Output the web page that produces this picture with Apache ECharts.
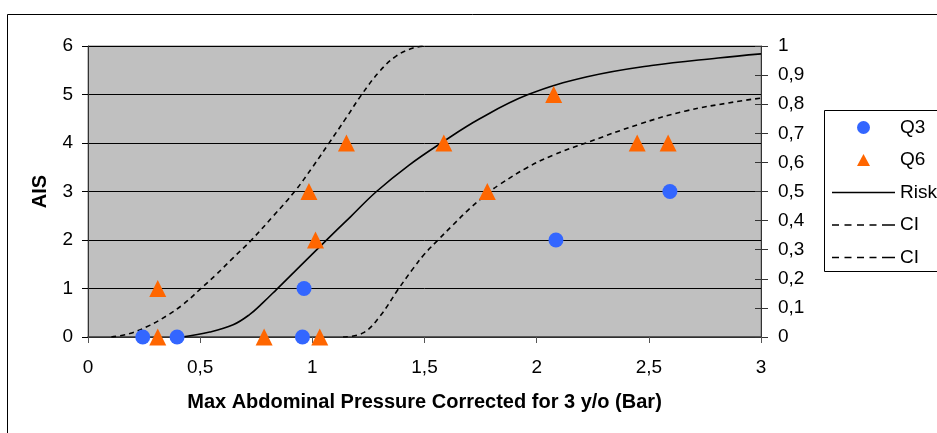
<!DOCTYPE html>
<html>
<head>
<meta charset="utf-8">
<script src="https://cdn.jsdelivr.net/npm/echarts@6/dist/echarts.min.js"></script>
<style>
html,body{margin:0;padding:0;background:#fff;}
#c{width:937px;height:433px;}
</style>
</head>
<body>
<div id="c"></div>
<script>
// ---- data ----
var q3X = [0.244, 0.397, 0.956, 0.963, 2.086, 2.594];
var q3Y = [0, 0, 0, 1, 2, 3];
var q6X = [0.311, 0.311, 0.785, 0.985, 1.014, 1.033, 1.152, 1.586, 1.780, 2.076, 2.448, 2.586];
var q6Y = [1, 0, 0, 3, 2, 0, 4, 4, 3, 5, 4, 4];

var riskX = [0.42, 0.543, 0.647, 0.72, 0.78, 0.84, 0.95, 1.063, 1.17, 1.286, 1.43, 1.575, 1.746, 1.962, 2.225, 2.512, 2.809, 3.0];
var riskP = [0.0, 0.017, 0.042, 0.077, 0.118, 0.163, 0.247, 0.333, 0.413, 0.5, 0.59, 0.667, 0.750, 0.833, 0.894, 0.933, 0.959, 0.973];

var ciUpX = [0.104, 0.186, 0.275, 0.349, 0.424, 0.498, 0.572, 0.647, 0.728, 0.825, 0.921, 1.0, 1.075, 1.15, 1.22, 1.30, 1.375, 1.449, 1.509];
var ciUpP = [0.0, 0.012, 0.040, 0.072, 0.112, 0.163, 0.215, 0.272, 0.333, 0.415, 0.5, 0.583, 0.667, 0.752, 0.833, 0.913, 0.966, 0.993, 1.0];

var ciLowX = [1.137, 1.226, 1.30, 1.382, 1.449, 1.50, 1.56, 1.627, 1.70, 1.783, 1.835, 1.955, 2.073, 2.22, 2.452, 2.66, 2.883, 3.0];
var ciLowP = [0.0, 0.014, 0.07, 0.163, 0.235, 0.285, 0.333, 0.385, 0.44, 0.495, 0.524, 0.581, 0.625, 0.667, 0.730, 0.776, 0.808, 0.821];

var xTickLabels = ['0', '0,5', '1', '1,5', '2', '2,5', '3'];
var yLeftTickLabels = ['0', '1', '2', '3', '4', '5', '6'];
var yRightTickLabels = ['0', '0,1', '0,2', '0,3', '0,4', '0,5', '0,6', '0,7', '0,8', '0,9', '1'];

function zip(a, b) { return a.map(function (v, i) { return [v, b[i]]; }); }

var FONT = '"Liberation Sans", Arial, sans-serif';
var chart = echarts.init(document.getElementById('c'), null, {renderer: 'canvas'});

// legend icons (bounding box 63 x 13 so they are not stretched)
var BOX = 'M0 0 L0 0 M63 13 L63 13 M0 13 L0 13 M63 0 L63 0 ';
var triIcon = 'path://' + BOX + 'M25 12.5 L31.5 0.5 L38 12.5 Z';
var solidIcon = 'path://' + BOX + 'M0 5.8 L63 5.8 L63 7.3 L0 7.3 Z';
var dashIcon = 'path://' + BOX +
  'M0 5.8 L7 5.8 L7 7.3 L0 7.3 Z M12.5 5.8 L19.5 5.8 L19.5 7.3 L12.5 7.3 Z ' +
  'M25 5.8 L32 5.8 L32 7.3 L25 7.3 Z M37.5 5.8 L44.5 5.8 L44.5 7.3 L37.5 7.3 Z ' +
  'M50 5.8 L63 5.8 L63 7.3 L50 7.3 Z';

var option = {
  animation: false,
  backgroundColor: '#ffffff',
  textStyle: {fontFamily: FONT, color: '#000'},
  grid: {
    left: 88, top: 46, width: 673, height: 291,
    show: true, backgroundColor: '#c0c0c0', borderColor: '#808080', borderWidth: 1
  },
  xAxis: {
    type: 'value', min: 0, max: 3, interval: 0.5,
    name: 'Max Abdominal Pressure Corrected for 3 y/o (Bar)',
    nameLocation: 'middle', nameGap: 55,
    nameTextStyle: {fontFamily: FONT, fontSize: 20, fontWeight: 'bold', color: '#000'},
    axisLine: {show: true, onZero: false, lineStyle: {color: '#404040', width: 1.5}},
    axisTick: {show: true, inside: false, length: 6, lineStyle: {color: '#555'}},
    axisLabel: {margin: 21, fontFamily: FONT, fontSize: 19, color: '#000',
      formatter: function (v) { return xTickLabels[Math.round(v / 0.5)]; }},
    splitLine: {show: false}
  },
  yAxis: [
    {
      type: 'value', min: 0, max: 6, interval: 1, position: 'left',
      name: 'AIS', nameLocation: 'middle', nameGap: 38, nameRotate: 90,
      nameTextStyle: {fontFamily: FONT, fontSize: 20, fontWeight: 'bold', color: '#000'},
      axisLine: {show: true, lineStyle: {color: '#333', width: 1}},
      axisTick: {show: true, inside: false, length: 6, lineStyle: {color: '#000'}},
      axisLabel: {margin: 15, fontFamily: FONT, fontSize: 19, color: '#000',
        formatter: function (v) { return yLeftTickLabels[Math.round(v)]; }},
      splitLine: {show: true, lineStyle: {color: '#000', width: 1}}
    },
    {
      type: 'value', min: 0, max: 1, interval: 0.1, position: 'right',
      axisLine: {show: true, lineStyle: {color: '#333', width: 1}},
      axisTick: {show: true, inside: false, length: 7, lineStyle: {color: '#333'}},
      axisLabel: {margin: 17, fontFamily: FONT, fontSize: 19, color: '#000',
        formatter: function (v) { return yRightTickLabels[Math.round(v * 10)]; }},
      splitLine: {show: false}
    },
    {
      type: 'value', min: 0, max: 1, interval: 0.1, position: 'right',
      axisLine: {show: false},
      axisTick: {show: true, inside: true, length: 6, lineStyle: {color: '#333'}},
      axisLabel: {show: false},
      splitLine: {show: false}
    }
  ],
  legend: {
    orient: 'vertical', left: 832, top: 118, padding: 0,
    itemWidth: 63, itemHeight: 13, itemGap: 13.5, itemTextGap: 3,
    textStyle: {fontFamily: FONT, fontSize: 19, color: '#000'},
    data: [
      {name: 'Q3', icon: 'circle'},
      {name: 'Q6', icon: triIcon},
      {name: 'Risk', icon: solidIcon},
      {name: 'CI', icon: dashIcon},
      {name: 'CI ', icon: dashIcon}
    ]
  },
  graphic: [
    {type: 'rect', z: 0, silent: true,
      shape: {x: 7.5, y: 14.5, width: 1000, height: 500},
      style: {fill: 'none', stroke: '#000', lineWidth: 1}},
    {type: 'rect', z: 1, silent: true,
      shape: {x: 824.5, y: 110.5, width: 200, height: 161},
      style: {fill: '#fff', stroke: '#000', lineWidth: 1}}
  ],
  series: [
    {name: 'Risk', type: 'line', yAxisIndex: 1, data: zip(riskX, riskP), showSymbol: false, symbol: 'none',
      smooth: 0.4, lineStyle: {color: '#000', width: 1.6, type: 'solid'}, itemStyle: {color: '#000'}, z: 3},
    {name: 'CI', type: 'line', yAxisIndex: 1, data: zip(ciUpX, ciUpP), showSymbol: false, symbol: 'none',
      smooth: 0.4, lineStyle: {color: '#000', width: 1.6, type: [5, 4]}, itemStyle: {color: '#000'}, z: 3},
    {name: 'CI ', type: 'line', yAxisIndex: 1, data: zip(ciLowX, ciLowP), showSymbol: false, symbol: 'none',
      smooth: 0.4, lineStyle: {color: '#000', width: 1.6, type: [5, 4]}, itemStyle: {color: '#000'}, z: 3},
    {name: 'Q3', type: 'scatter', yAxisIndex: 0, data: zip(q3X, q3Y), symbol: 'circle', symbolSize: 15,
      itemStyle: {color: '#3366ff', opacity: 1}, z: 4},
    {name: 'Q6', type: 'scatter', yAxisIndex: 0, data: zip(q6X, q6Y), symbol: 'triangle', symbolSize: 17,
      itemStyle: {color: '#ff6600', opacity: 1}, z: 4}
  ]
};
chart.setOption(option);
</script>
</body>
</html>
